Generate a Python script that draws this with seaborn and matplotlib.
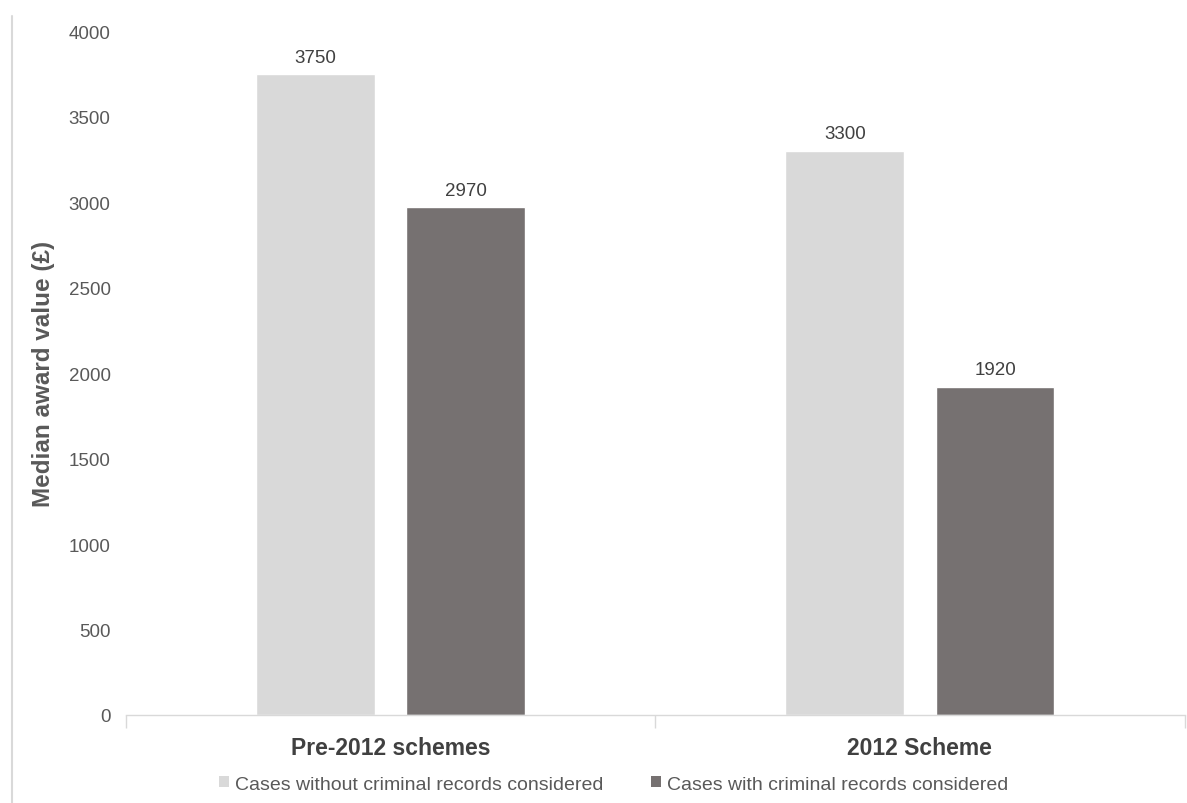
import matplotlib
matplotlib.use("Agg")
import matplotlib.pyplot as plt
import seaborn as sns
import pandas as pd
from matplotlib.lines import Line2D
from matplotlib.patches import Patch

categories = ["Pre-2012 schemes", "2012 Scheme"]
series_names = ["Cases without criminal records considered",
                "Cases with criminal records considered"]
without_records = [3750, 3300]
with_records = [2970, 1920]
y_ticks = [0, 500, 1000, 1500, 2000, 2500, 3000, 3500, 4000]

colors = ["#D9D9D9", "#767171"]

df = pd.DataFrame({
    "category": categories * 2,
    "series": [series_names[0]] * 2 + [series_names[1]] * 2,
    "value": without_records + with_records,
})

sns.set_theme(style="white")
plt.rcParams["font.family"] = ["Liberation Sans", "DejaVu Sans"]

fig = plt.figure(figsize=(11.87, 8.04), dpi=100)
ax = fig.add_axes([0.106, 0.1095, 0.892, 0.8505])

sns.barplot(data=df, x="category", y="value", hue="series", order=categories,
            hue_order=series_names, palette=colors, width=0.568, gap=0.21,
            dodge=True, ax=ax, legend=False, saturation=1)

for cont in ax.containers:
    ax.bar_label(cont, fmt="%d", padding=6, fontsize=13.5, color="#404040")

ax.set_ylim(0, 4000)
ax.set_xlim(-0.5, 1.5)
ax.set_yticks(y_ticks)
ax.set_yticklabels([str(v) for v in y_ticks], fontsize=13.5, color="#595959")
ax.tick_params(axis="y", length=0, pad=11)
ax.tick_params(axis="x", which="major", length=0, pad=15)
ax.set_xticks([-0.5, 0.5, 1.5], minor=True)
ax.tick_params(axis="x", which="minor", length=9, color="#D9D9D9", width=1, direction="out")
ax.xaxis.set_ticks_position("bottom")
for lab in ax.get_xticklabels():
    lab.set_fontsize(16.5)
    lab.set_fontweight("bold")
    lab.set_color("#404040")

ax.set_xlabel("")
ax.set_ylabel("Median award value (£)", fontsize=17.5, fontweight="bold",
              color="#595959")
ax.yaxis.set_label_coords(-0.067, 0.5)

for s in ["top", "right", "left"]:
    ax.spines[s].set_visible(False)
ax.spines["bottom"].set_color("#D9D9D9")
ax.spines["bottom"].set_linewidth(1)

handles = [Patch(facecolor=c, edgecolor="none") for c in colors]
fig.legend(handles, series_names, loc="center", bbox_to_anchor=(0.517, 0.0236),
           ncol=2, frameon=False, fontsize=14, handlelength=0.5, handleheight=0.5,
           handletextpad=0.3, columnspacing=2.45, labelcolor="#595959")

fig.add_artist(Line2D([0.0105, 0.0105], [0.0, 0.979], transform=fig.transFigure,
                      color="#D9D9D9", linewidth=1.5))

fig.savefig("out.png", dpi=100, facecolor="white")
